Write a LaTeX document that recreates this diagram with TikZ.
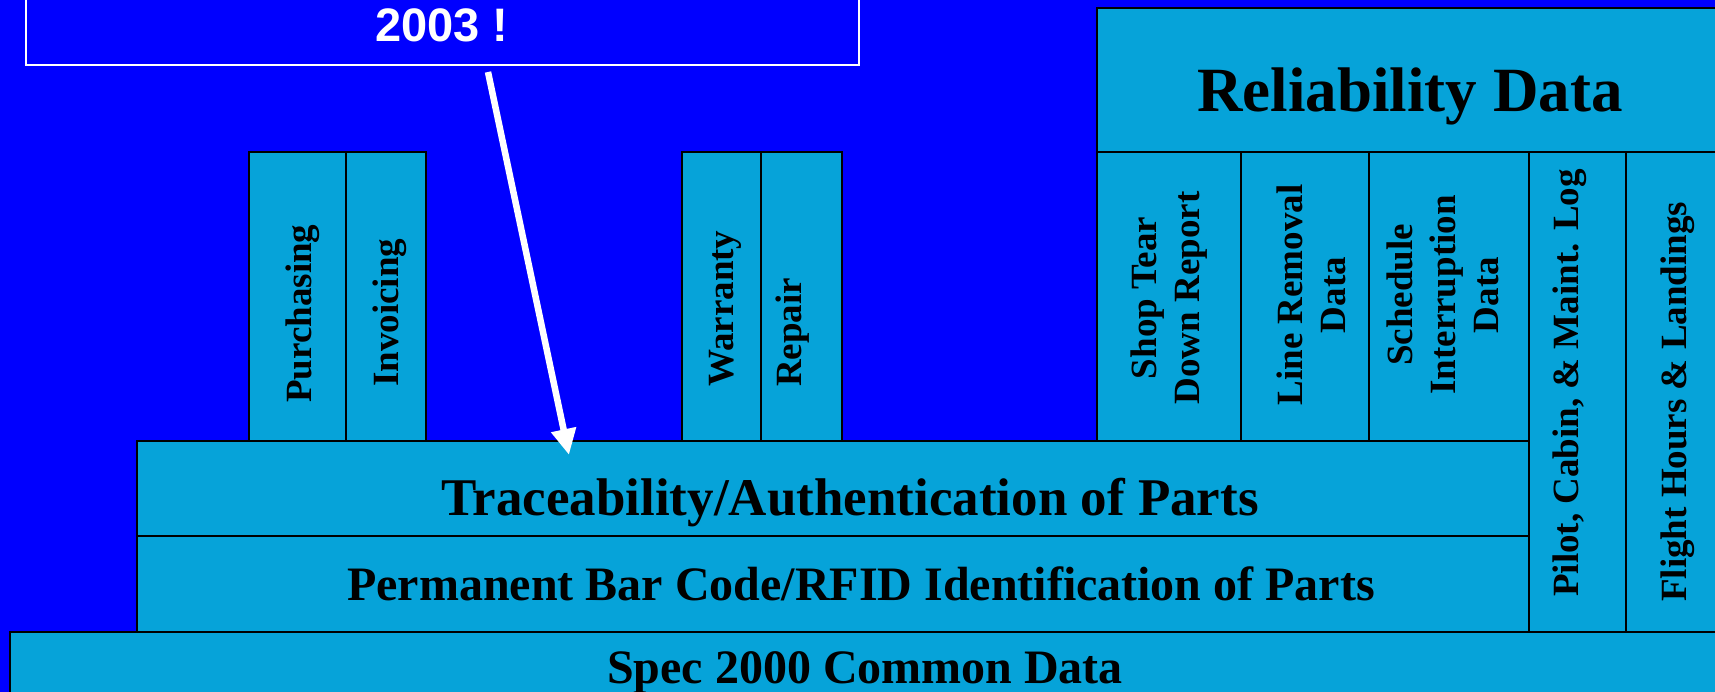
\documentclass[tikz,border=0pt]{standalone}
\usepackage{fontspec}
\setmainfont{Liberation Serif}
\newfontfamily\arialfont{Liberation Sans}
\usepackage{tikz}
\usetikzlibrary{arrows.meta}

\definecolor{bgblue}{RGB}{0,0,255}
\definecolor{tile}{RGB}{6,163,217}

\begin{document}
\begin{tikzpicture}[x=1pt, y=-1pt,
		blk/.style={draw=black, line width=2.5pt, fill=tile},
		vlab/.style={rotate=90, inner sep=0pt, align=center, font=\bfseries\fontsize{37}{43}\selectfont},
		hlab/.style={inner sep=0pt, anchor=base},
		arr/.style={white, line width=6.5pt, -{Triangle[width=24pt, length=26pt]}}]
	
		% Background
		\useasboundingbox (0,0) rectangle (1715,692);
		\clip (0,0) rectangle (1715,692);
		\fill[bgblue] (0,0) rectangle (1715,692);
	
		% Callout box at the top
		\draw[white, line width=2pt] (26,-10) rectangle (859,65);
		\node[hlab, white, font=\arialfont\bfseries\fontsize{47}{50}\selectfont] (note) at (442,42) {2003 !};
	
		% Bottom layers
		\draw[blk] (10,632) rectangle (1730,710);
		\draw[blk] (137,536) rectangle (1529,632);
		\draw[blk] (137,441) rectangle (1529,536);
		\node[hlab, font=\bfseries\fontsize{48}{52}\selectfont] (spec) at (865,683) {Spec 2000 Common Data};
		\node[hlab, font=\bfseries\fontsize{48}{52}\selectfont] (perm) at (861,600) {Permanent Bar Code/RFID Identification of Parts};
		\node[hlab, font=\bfseries\fontsize{53}{56}\selectfont] (trace) at (850,515) {Traceability/Authentication of Parts};
	
		% Purchasing and invoicing
		\draw[blk] (249,152) rectangle (346,441);
		\draw[blk] (346,152) rectangle (426,441);
		\node[vlab, anchor=west] (purch) at (303,403) {Purchasing};
		\node[vlab, anchor=west] (invoic) at (390,387) {Invoicing};
	
		% Warranty and repair
		\draw[blk] (682,152) rectangle (761,441);
		\draw[blk] (761,152) rectangle (842,441);
		\node[vlab, anchor=west] (warr) at (725,387) {Warranty};
		\node[vlab, anchor=west] (repair) at (793,387) {Repair};
	
		% Reliability data block
		\draw[blk] (1097,8) rectangle (1730,152);
		\node[hlab, font=\bfseries\fontsize{63}{66}\selectfont] (reliab) at (1410,112) {Reliability Data};
		\draw[blk] (1097,152) rectangle (1241,441);
		\draw[blk] (1241,152) rectangle (1369,441);
		\draw[blk] (1369,152) rectangle (1529,441);
		\draw[blk] (1529,152) rectangle (1626,632);
		\draw[blk] (1626,152) rectangle (1730,632);
		\node[vlab] (shop) at (1169,298) {Shop Tear\\Down Report};
		\node[vlab] (linerem) at (1311,295) {Line Removal\\Data};
		\node[vlab] (sched) at (1443,295) {Schedule\\Interruption\\Data};
		\node[vlab, anchor=west] (pilot) at (1570,597) {Pilot, Cabin, \& Maint. Log};
		\node[vlab, anchor=west] (flight) at (1678,602) {Flight Hours \& Landings};
	
		% Arrow from the callout down to the traceability layer
		\coordinate (arrS) at (488,72);
		\coordinate (arrE) at (569,455);
		\draw[arr] (arrS) -- (arrE);
	
	\end{tikzpicture}
\end{document}
